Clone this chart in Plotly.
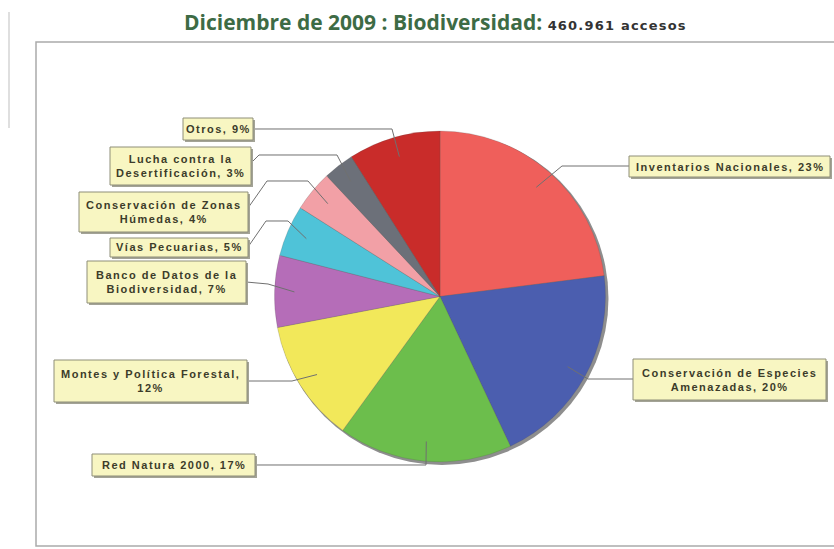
import math
import plotly.graph_objects as go

# ---------------- data ----------------
categories = [
    "Inventarios Nacionales",
    "Conservación de Especies Amenazadas",
    "Red Natura 2000",
    "Montes y Política Forestal",
    "Banco de Datos de la Biodiversidad",
    "Vías Pecuarias",
    "Conservación de Zonas Húmedas",
    "Lucha contra la Desertificación",
    "Otros",
]
values = [23, 20, 17, 12, 7, 5, 4, 3, 9]
colors = ["#EF5F5B", "#4B5EAF", "#6CBE4C", "#F2E85A", "#B56DB8",
          "#4FC3D8", "#F2A0A6", "#6C7079", "#C92C2A"]
# word after which the label wraps to a second line
label_breaks = [None, "Especies", None, "Forestal,", "la", None, "Zonas", "la", None]

title_main = "Diciembre de 2009 : Biodiversidad:"
title_sub = "460.961 accesos"

# ---------------- layout (pixels) ----------------
W, H = 834, 549
CX, CY, R = 440.0, 296.5, 165.5
# label boxes: x0, y0, x1, y1
boxes = [
    (629, 156, 830, 177),
    (633, 359, 826, 400),
    (92, 454, 255, 476),
    (54, 360, 247, 402),
    (87, 261, 246, 303),
    (110, 238, 248, 257),
    (79, 192, 248, 232),
    (110, 147, 251, 185),
    (183, 118, 253, 140),
]
# leader line points from the box towards the slice (slice end is computed)
leader_pts = [
    [(629, 166), (562, 166)],
    [(633, 379), (588, 379)],
    [(255, 465), (426, 465)],
    [(247, 381), (292, 381)],
    [(246, 282), (268, 284)],
    [(248, 247), (266, 221), (288, 221)],
    [(248, 208), (267, 181), (308, 181)],
    [(251, 163), (259, 155), (337, 155)],
    [(253, 129), (392, 129)],
]


def px(x):
    return x / W


def py(y):
    return 1 - y / H


fig = go.Figure()
fig.add_trace(go.Pie(
    labels=categories,
    values=values,
    sort=False,
    direction="clockwise",
    rotation=0,
    marker=dict(colors=colors, line=dict(color="rgba(80,80,80,0.35)", width=0.6)),
    textinfo="none",
    hoverinfo="label+percent",
    showlegend=False,
    domain=dict(x=[px(CX - R), px(CX + R)], y=[py(CY + R), py(CY - R)]),
))

shapes = []
annotations = []

# outer frame
shapes.append(dict(type="rect", xref="paper", yref="paper",
                   x0=px(36), x1=px(845), y0=py(42), y1=py(546),
                   line=dict(color="#ABABAB", width=1.5), fillcolor="rgba(0,0,0,0)",
                   layer="below"))
# faint left rule
shapes.append(dict(type="line", xref="paper", yref="paper",
                   x0=px(9), x1=px(9), y0=py(12), y1=py(128),
                   line=dict(color="#D4D4D4", width=1.5), layer="below"))
# pie shadow
shapes.append(dict(type="circle", xref="paper", yref="paper",
                   x0=px(CX - R + 1), x1=px(CX + R + 3), y0=py(CY + R + 3), y1=py(CY - R + 1),
                   line=dict(width=0), fillcolor="#8E8E8E", layer="below"))

total = sum(values)
cum = 0.0
for i, (cat, v) in enumerate(zip(categories, values)):
    mid = (cum + v / 2) / total * 2 * math.pi
    cum += v
    ex = CX + 0.88 * R * math.sin(mid)
    ey = CY - 0.88 * R * math.cos(mid)
    pts = leader_pts[i] + [(ex, ey)]
    path = "M " + " L ".join(f"{px(x):.5f},{py(y):.5f}" for x, y in pts)
    shapes.append(dict(type="path", xref="paper", yref="paper", path=path,
                       line=dict(color="#707070", width=1)))

    x0, y0, x1, y1 = boxes[i]
    # box shadow
    shapes.append(dict(type="rect", xref="paper", yref="paper",
                       x0=px(x0 + 2), x1=px(x1 + 2), y0=py(y1 + 2), y1=py(y0 + 2),
                       line=dict(width=0), fillcolor="#A3A396"))
    shapes.append(dict(type="rect", xref="paper", yref="paper",
                       x0=px(x0), x1=px(x1), y0=py(y1), y1=py(y0),
                       line=dict(color="#8E8E78", width=1), fillcolor="#F8F6C2"))

    text = f"{cat}, {v}%"
    br = label_breaks[i]
    if br:
        idx = text.index(br + " ") + len(br)
        text = text[:idx] + "<br>" + text[idx + 1:]
    annotations.append(dict(
        xref="paper", yref="paper", x=px((x0 + x1) / 2), y=py((y0 + y1) / 2),
        xanchor="center", yanchor="middle", showarrow=False, align="center",
        text=f'<span style="letter-spacing:1.5px">{text}</span>',
        font=dict(family="Liberation Sans, Arial", size=11, color="#3C3C2A", weight="bold"),
    ))

annotations.append(dict(
    xref="paper", yref="paper", x=px(435.5), y=py(22), xanchor="center", yanchor="middle",
    showarrow=False,
    text=(f'{title_main} <span style="font-size:13px;font-family:DejaVu Sans;'
          f'fill:#333333;letter-spacing:1.2px">{title_sub}</span>'),
    font=dict(family="Open Sans", size=21, color="#3D6B45", weight="bold"),
))

fig.update_layout(
    width=W, height=H, autosize=False,
    margin=dict(l=0, r=0, t=0, b=0),
    paper_bgcolor="white", plot_bgcolor="white",
    shapes=shapes, annotations=annotations,
)
fig.write_html("out.html",
               config={"displayModeBar": False},
               post_script="document.body.style.margin='0px';document.body.style.overflow='hidden';")
